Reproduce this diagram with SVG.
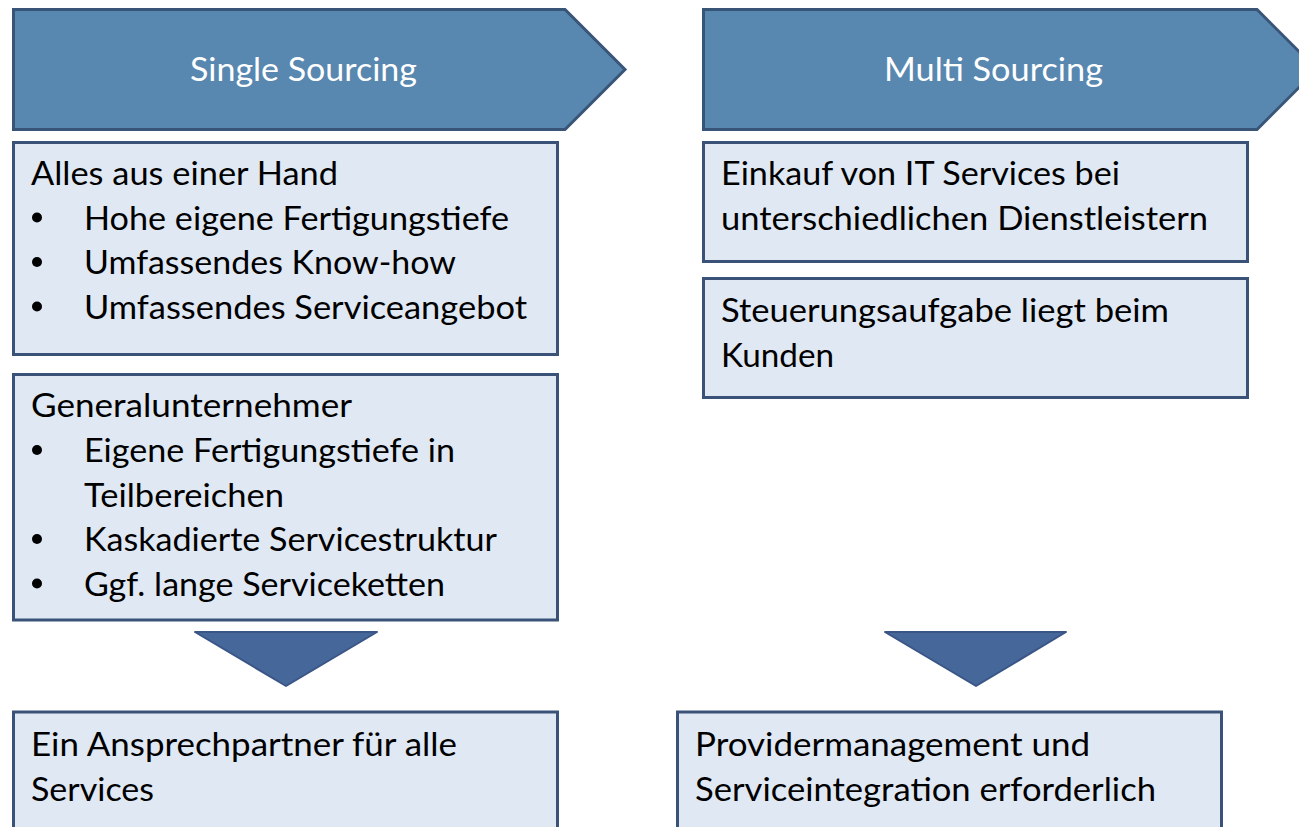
<svg xmlns="http://www.w3.org/2000/svg" width="1299" height="827" viewBox="0 0 1299 827">
  <style>
    .chev { fill: #5887b0; stroke: #385578; stroke-width: 3; stroke-linejoin: miter; }
    .box { fill: #dfe8f3; stroke: #3a5278; stroke-width: 3; }
    .tri { fill: #46679a; stroke: #3a5686; stroke-width: 2; stroke-linejoin: round; }
    .head { font-family: Lato, "Open Sans", sans-serif; font-size: 33px; fill: #ffffff; text-anchor: middle; }
    .txt { font-family: Lato, "Open Sans", sans-serif; font-size: 33px; fill: #000000; }
    .dot { fill: #000000; }
  </style>
  <rect width="1299" height="827" fill="#ffffff"/>

  <!-- Column headers -->
  <g id="single-sourcing">
    <polygon class="chev" points="13.5,9.5 565,9.5 625,69.5 565,129.5 13.5,129.5"/>
    <text class="head" x="303.5" y="81" textLength="227" lengthAdjust="spacingAndGlyphs">Single Sourcing</text>
  </g>
  <g id="multi-sourcing">
    <polygon class="chev" points="703.5,9.5 1257,9.5 1317,69.5 1257,129.5 703.5,129.5"/>
    <text class="head" x="993.5" y="81" textLength="219" lengthAdjust="spacingAndGlyphs">Multi Sourcing</text>
  </g>

  <!-- Single sourcing details -->
  <g id="alles-aus-einer-hand">
    <rect class="box" x="13.5" y="142.5" width="544" height="212"/>
    <text class="txt" x="31" y="185" textLength="307" lengthAdjust="spacingAndGlyphs">Alles aus einer Hand</text>
    <circle class="dot" cx="37" cy="217.5" r="5"/>
    <text class="txt" x="84" y="229.5" textLength="425" lengthAdjust="spacingAndGlyphs">Hohe eigene Fertigungstiefe</text>
    <circle class="dot" cx="37" cy="262" r="5"/>
    <text class="txt" x="84" y="274" textLength="372" lengthAdjust="spacingAndGlyphs">Umfassendes Know-how</text>
    <circle class="dot" cx="37" cy="306.5" r="5"/>
    <text class="txt" x="84" y="318.5" textLength="443" lengthAdjust="spacingAndGlyphs">Umfassendes Serviceangebot</text>
  </g>
  <g id="generalunternehmer">
    <rect class="box" x="13.5" y="374.5" width="544" height="245.5"/>
    <text class="txt" x="31" y="417" textLength="321" lengthAdjust="spacingAndGlyphs">Generalunternehmer</text>
    <circle class="dot" cx="37" cy="450" r="5"/>
    <text class="txt" x="84" y="462" textLength="371" lengthAdjust="spacingAndGlyphs">Eigene Fertigungstiefe in</text>
    <text class="txt" x="84" y="506.5" textLength="200" lengthAdjust="spacingAndGlyphs">Teilbereichen</text>
    <circle class="dot" cx="37" cy="539" r="5"/>
    <text class="txt" x="84" y="551" textLength="413" lengthAdjust="spacingAndGlyphs">Kaskadierte Servicestruktur</text>
    <circle class="dot" cx="37" cy="583.5" r="5"/>
    <text class="txt" x="84" y="595.5" textLength="361" lengthAdjust="spacingAndGlyphs">Ggf. lange Serviceketten</text>
  </g>
  <g id="ein-ansprechpartner">
    <rect class="box" x="13.5" y="712" width="544" height="130"/>
    <text class="txt" x="31" y="756" textLength="426" lengthAdjust="spacingAndGlyphs">Ein Ansprechpartner für alle</text>
    <text class="txt" x="31" y="800.5" textLength="123" lengthAdjust="spacingAndGlyphs">Services</text>
  </g>

  <!-- Multi sourcing details -->
  <g id="einkauf-it-services">
    <rect class="box" x="703.5" y="142.5" width="544" height="119"/>
    <text class="txt" x="721" y="185" textLength="399" lengthAdjust="spacingAndGlyphs">Einkauf von IT Services bei</text>
    <text class="txt" x="721" y="229.5" textLength="487" lengthAdjust="spacingAndGlyphs">unterschiedlichen Dienstleistern</text>
  </g>
  <g id="steuerungsaufgabe">
    <rect class="box" x="703.5" y="278.5" width="544" height="119"/>
    <text class="txt" x="721" y="322" textLength="448" lengthAdjust="spacingAndGlyphs">Steuerungsaufgabe liegt beim</text>
    <text class="txt" x="721" y="366.5" textLength="113" lengthAdjust="spacingAndGlyphs">Kunden</text>
  </g>
  <g id="providermanagement">
    <rect class="box" x="677.5" y="712" width="544" height="130"/>
    <text class="txt" x="695" y="756" textLength="395" lengthAdjust="spacingAndGlyphs">Providermanagement und</text>
    <text class="txt" x="695" y="800.5" textLength="461" lengthAdjust="spacingAndGlyphs">Serviceintegration erforderlich</text>
  </g>

  <!-- Downward arrows leading to the conclusions -->
  <g id="connectors">
    <polygon class="tri" points="195,632 377,632 286,686"/>
    <polygon class="tri" points="885,632 1066,632 976,686"/>
  </g>
</svg>
